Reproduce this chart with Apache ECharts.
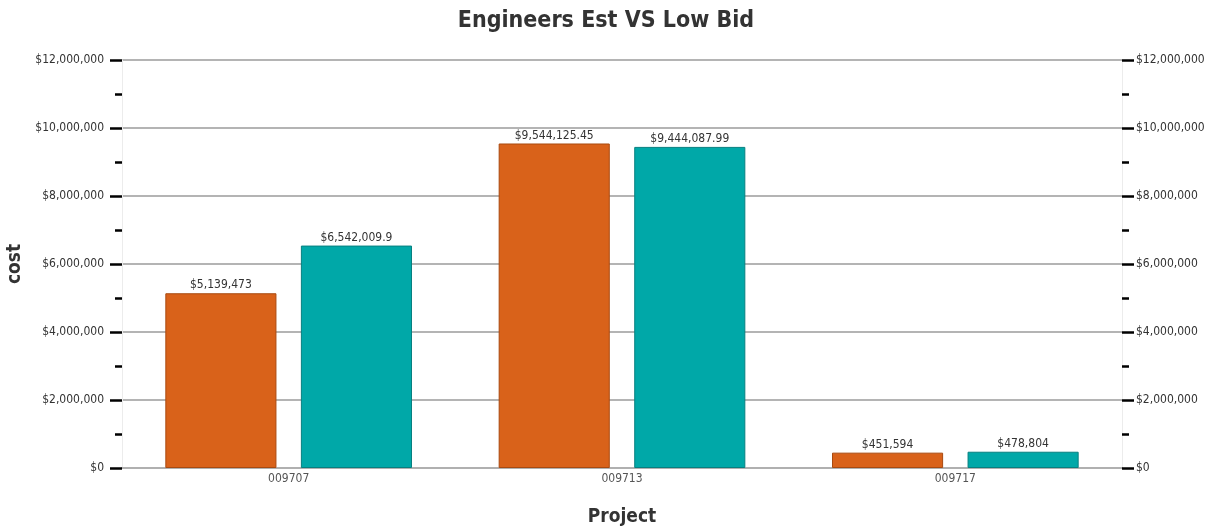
<!DOCTYPE html>
<html>
<head>
<meta charset="utf-8">
<script src="https://cdn.jsdelivr.net/npm/echarts@6/dist/echarts.min.js"></script>
<style>
html,body{margin:0;padding:0;background:#fff;}
#chart{width:1212px;height:531px;}
</style>
</head>
<body>
<div id="chart"></div>
<script>
var categories = ['009707', '009713', '009717'];
var engineersEst = [5139473, 9544125.45, 451594];
var lowBid = [6542009.9, 9444087.99, 478804];
var seriesNames = ['Engineers Est', 'Low Bid'];
var yMin = 0, yMax = 12000000, yInterval = 2000000;

var FONT = '"DejaVu Sans Condensed", "Liberation Sans Narrow", "Liberation Sans", sans-serif';
function money(v) {
  return '$' + Number(v).toLocaleString('en-US', {maximumFractionDigits: 2});
}

var chart = echarts.init(document.getElementById('chart'));
var yAxisBase = {
  type: 'value', min: yMin, max: yMax, interval: yInterval,
  axisLine: {show: true, lineStyle: {color: '#ececec', width: 1}},
  axisTick: {show: true, length: 12, lineStyle: {color: '#000', width: 2.5}},
  minorTick: {show: true, splitNumber: 2, length: 7, lineStyle: {color: '#000', width: 2.5}},
  axisLabel: {fontFamily: FONT, fontSize: 12, color: '#333', margin: 18, formatter: money}
};
chart.setOption({
  animation: false,
  title: {
    text: 'Engineers Est VS Low Bid', left: 'center', top: 5,
    textStyle: {fontFamily: FONT, fontSize: 23, fontWeight: 'bold', color: '#333'}
  },
  grid: {left: 122, right: 90, top: 60, bottom: 63, containLabel: false, outerBoundsMode: 'none'},
  xAxis: {
    type: 'category', data: categories,
    name: 'Project', nameLocation: 'middle', nameGap: 40,
    nameTextStyle: {fontFamily: FONT, fontSize: 19, fontWeight: 'bold', color: '#333'},
    axisLine: {show: true, lineStyle: {color: '#b0b0b0', width: 2}},
    axisTick: {show: false},
    axisLabel: {fontFamily: FONT, fontSize: 12, color: '#555', margin: 5}
  },
  yAxis: [
    Object.assign({}, yAxisBase, {
      position: 'left',
      name: 'cost', nameLocation: 'middle', nameGap: 92, nameRotate: 90,
      nameTextStyle: {fontFamily: FONT, fontSize: 19, fontWeight: 'bold', color: '#333'},
      splitLine: {show: true, lineStyle: {color: '#b4b4b4', width: 2}}
    }),
    Object.assign({}, yAxisBase, {
      position: 'right',
      axisLabel: Object.assign({}, yAxisBase.axisLabel, {margin: 14}),
      splitLine: {show: false}
    })
  ],
  series: [
    {
      name: seriesNames[0], type: 'bar', data: engineersEst,
      barGap: '22%', barCategoryGap: '26%',
      itemStyle: {color: '#d9621a', borderColor: '#a94a10', borderWidth: 1},
      label: {show: true, position: 'top', distance: 2, fontFamily: FONT, fontSize: 12, color: '#333', formatter: function(p){return money(p.value);}}
    },
    {
      name: seriesNames[1], type: 'bar', data: lowBid,
      barGap: '22%', barCategoryGap: '26%',
      itemStyle: {color: '#00a8a8', borderColor: '#078080', borderWidth: 1},
      label: {show: true, position: 'top', distance: 2, fontFamily: FONT, fontSize: 12, color: '#333', formatter: function(p){return money(p.value);}}
    }
  ]
});
</script>
</body>
</html>
